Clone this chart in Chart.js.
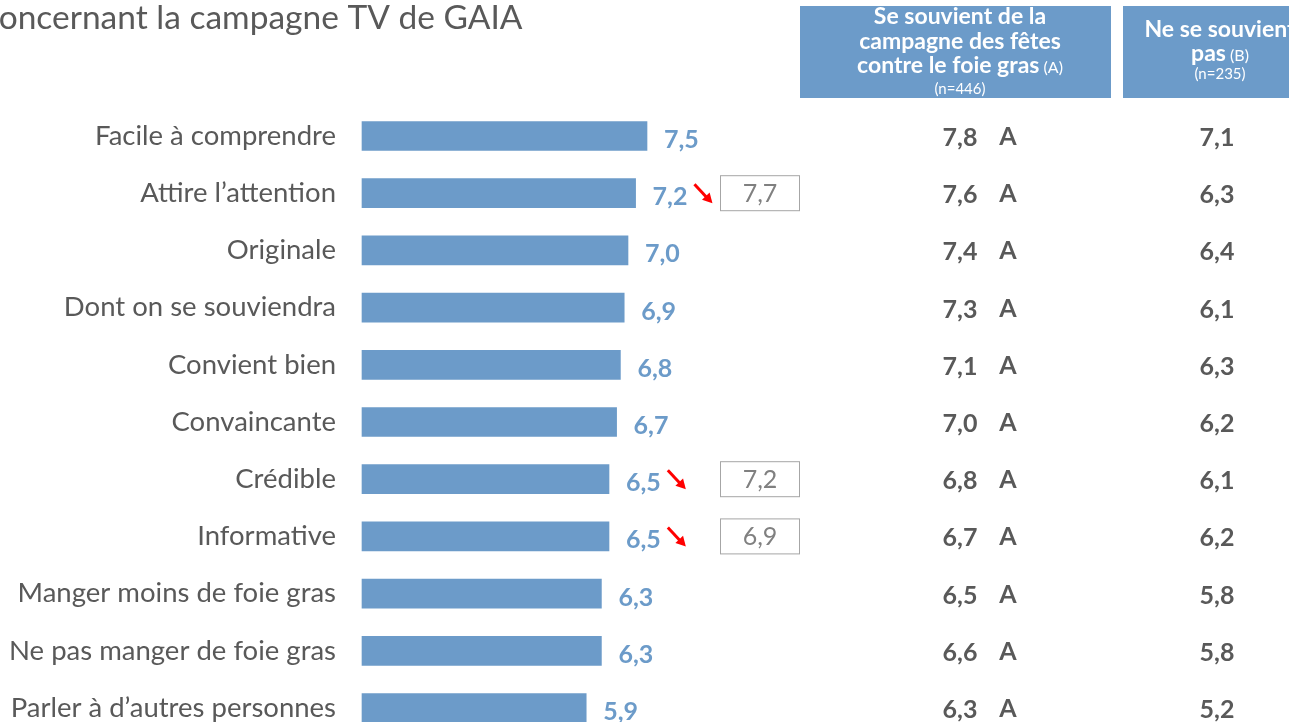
<!DOCTYPE html>
<html><head><meta charset="utf-8">
<script src="https://cdn.jsdelivr.net/npm/chart.js@4/dist/chart.umd.min.js"></script>
<style>html,body{margin:0;padding:0;background:#fff;overflow:hidden}#wrap{position:relative;width:1289px;height:722px}</style>
</head><body><div id="wrap"><canvas id="c" width="1289" height="722"></canvas></div>
<script>
const chartTitle = 'Concernant la campagne TV de GAIA';
const categories = ['Facile à comprendre','Attire l’attention','Originale','Dont on se souviendra','Convient bien','Convaincante','Crédible','Informative','Manger moins de foie gras','Ne pas manger de foie gras','Parler à d’autres personnes'];
const totalScores = [7.5,7.2,7.0,6.9,6.8,6.7,6.5,6.5,6.3,6.3,5.9];
const previousScores = [null,7.7,null,null,null,null,7.2,6.9,null,null,null];
const rememberScores = [7.8,7.6,7.4,7.3,7.1,7.0,6.8,6.7,6.5,6.6,6.3];
const rememberSignif = ['A','A','A','A','A','A','A','A','A','A','A'];
const notRememberScores = [7.1,6.3,6.4,6.1,6.3,6.2,6.1,6.2,5.8,5.8,5.2];
const headerA = {lines:['Se souvient de la','campagne des fêtes','contre le foie gras'], tag:'(A)', n:'(n=446)'};
const headerB = {lines:['Ne se souvient','pas'], tag:'(B)', n:'(n=235)'};

const BLUE = '#6C9BC9';
const GRAY = '#595959';
const FONT = 'Lato, "Open Sans", sans-serif';
const fmt = v => v.toFixed(1).replace('.', ',');

const overlay = {
  id:'overlay',
  afterDatasetsDraw(chart){
    const ctx = chart.ctx, x = chart.scales.x, y = chart.scales.y;
    ctx.save();
    // title
    ctx.font = '33.5px ' + FONT;
    ctx.fillStyle = GRAY; ctx.textAlign='left'; ctx.textBaseline='alphabetic';
    const cw = ctx.measureText('C').width;
    ctx.fillText(chartTitle, -cw - 1, 29);
    // header boxes
    ctx.fillStyle = BLUE;
    ctx.fillRect(800, 6, 311, 92);
    ctx.fillRect(1123, 6, 195, 92);
    ctx.fillStyle = '#fff'; ctx.textAlign='center';
    const drawHeader = (h, cx, baselines, nBase) => {
      h.lines.forEach((t,i)=>{
        const last = i === h.lines.length-1;
        ctx.font = 'bold 23px ' + FONT;
        const w1 = ctx.measureText(t).width;
        if(last){
          ctx.font = '16px ' + FONT;
          const w2 = ctx.measureText(' ' + h.tag).width;
          const start = cx - (w1+w2)/2;
          ctx.textAlign='left';
          ctx.font = 'bold 23px ' + FONT;
          ctx.fillText(t, start, baselines[i]);
          ctx.font = '16px ' + FONT;
          ctx.fillText(' ' + h.tag, start + w1, baselines[i]);
          ctx.textAlign='center';
        } else {
          ctx.fillText(t, cx, baselines[i]);
        }
      });
      ctx.font = '15px ' + FONT;
      ctx.fillText(h.n, cx, nBase);
    };
    drawHeader(headerA, 960, [24,49,73], 94);
    drawHeader(headerB, 1220, [37,61], 79);

    categories.forEach((c,i)=>{
      const cy = y.getPixelForValue(i);
      const xe = x.getPixelForValue(totalScores[i]);
      // bar value label
      ctx.font = 'bold 25px ' + FONT;
      ctx.fillStyle = BLUE; ctx.textAlign='left'; ctx.textBaseline='middle';
      const lbl = fmt(totalScores[i]);
      ctx.fillText(lbl, xe + 17, cy + 4);
      const lw = ctx.measureText(lbl).width;
      if(previousScores[i] !== null){
        // red arrow
        const ax0 = xe + 17 + lw + 7, ay0 = cy - 9, ax1 = ax0 + 18, ay1 = cy + 10;
        ctx.strokeStyle = '#FF0000'; ctx.fillStyle = '#FF0000'; ctx.lineWidth = 3;
        ctx.beginPath(); ctx.moveTo(ax0, ay0); ctx.lineTo(ax1-5, ay1-5); ctx.stroke();
        const ang = Math.atan2(ay1-ay0, ax1-ax0), hl = 11;
        ctx.beginPath(); ctx.moveTo(ax1, ay1);
        ctx.lineTo(ax1 - hl*Math.cos(ang-0.5), ay1 - hl*Math.sin(ang-0.5));
        ctx.lineTo(ax1 - hl*Math.cos(ang+0.5), ay1 - hl*Math.sin(ang+0.5));
        ctx.closePath(); ctx.fill();
        // previous value box
        ctx.strokeStyle = '#A6A6A6'; ctx.lineWidth = 1;
        ctx.strokeRect(720.5, cy - 17.5, 79, 35);
        ctx.fillStyle = '#808080'; ctx.font = '25px ' + FONT; ctx.textAlign='center';
        ctx.fillText(fmt(previousScores[i]), 760, cy + 1);
      }
      // columns
      ctx.fillStyle = GRAY; ctx.font = 'bold 25px ' + FONT; ctx.textAlign='center';
      ctx.fillText(fmt(rememberScores[i]), 960, cy + 2);
      ctx.fillText(rememberSignif[i], 1008, cy + 1);
      ctx.fillText(fmt(notRememberScores[i]), 1217, cy + 2);
    });
    ctx.restore();
  }
};

new Chart(document.getElementById('c'), {
  type:'bar',
  data:{ labels: categories, datasets:[{ data: totalScores, backgroundColor: BLUE, barThickness: 29, clip: false }]},
  options:{
    indexAxis:'y', responsive:false, animation:false, devicePixelRatio:1,
    layout:{ padding:{ top:136, bottom:14, left:0, right:547 } },
    plugins:{ legend:{display:false}, tooltip:{enabled:false}, title:{display:false} },
    scales:{
      x:{ display:false, min:0, max:10 },
      y:{ offset:false, grid:{display:false, drawTicks:false}, border:{display:false},
          ticks:{ color:GRAY, font:{family:FONT, size:27.5}, padding:26, autoSkip:false },
          afterFit(s){ s.width = 362; s.paddingTop = 0; s.paddingBottom = 0; } }
    }
  },
  plugins:[overlay]
});
</script></body></html>
